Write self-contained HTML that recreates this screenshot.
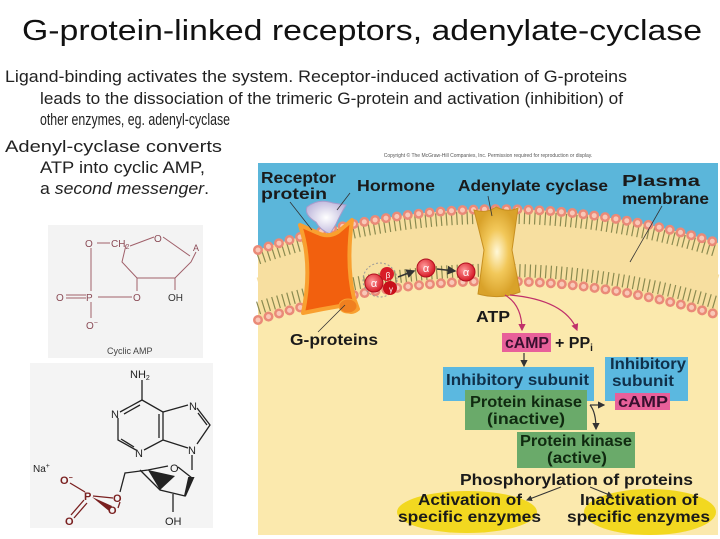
<!DOCTYPE html>
<html><head><meta charset="utf-8"><style>
html,body{margin:0;padding:0;background:#fff;}
svg{display:block;}
</style></head><body>
<svg width="720" height="539" viewBox="0 0 720 539" xmlns="http://www.w3.org/2000/svg" font-family="Liberation Sans, Arial, sans-serif">
<defs>
<radialGradient id="gc" cx="0.5" cy="0.5" r="0.5"><stop offset="0" stop-color="#fff8d8"/><stop offset="0.5" stop-color="#f2c85a"/><stop offset="1" stop-color="#d9a22a"/></radialGradient>
<radialGradient id="hm" cx="0.5" cy="0.5" r="0.6"><stop offset="0" stop-color="#fff"/><stop offset="1" stop-color="#b8b0d8"/></radialGradient>
<radialGradient id="al" cx="0.4" cy="0.4" r="0.6"><stop offset="0" stop-color="#ff9a9a"/><stop offset="1" stop-color="#d81c28"/></radialGradient>
<marker id="ar" markerWidth="6" markerHeight="6" refX="5" refY="3" orient="auto"><path d="M0,0 L6,3 L0,6 Z" fill="#333"/></marker>
<marker id="arp" markerWidth="6" markerHeight="6" refX="5" refY="3" orient="auto"><path d="M0,0 L6,3 L0,6 Z" fill="#c0306a"/></marker>
</defs>

<text x="22" y="40" font-size="29" fill="#111" textLength="680" lengthAdjust="spacingAndGlyphs">G-protein-linked receptors, adenylate-cyclase</text>
<g font-size="17" fill="#222">
<text x="5" y="82" textLength="622" lengthAdjust="spacingAndGlyphs">Ligand-binding activates the system. Receptor-induced activation of G-proteins</text>
<text x="40" y="104" textLength="583" lengthAdjust="spacingAndGlyphs">leads to the dissociation of the trimeric G-protein and activation (inhibition) of</text>
<text x="40" y="125" textLength="190" lengthAdjust="spacingAndGlyphs">other enzymes, eg. adenyl-cyclase</text>
<text x="5" y="152" textLength="217" lengthAdjust="spacingAndGlyphs">Adenyl-cyclase converts</text>
<text x="40" y="173" textLength="165" lengthAdjust="spacingAndGlyphs">ATP into cyclic AMP,</text>
<text x="40" y="194" textLength="169" lengthAdjust="spacingAndGlyphs">a <tspan font-style="italic">second messenger</tspan>.</text>
</g>

<rect x="48" y="225" width="155" height="133" fill="#f3f3f3"/>
<g stroke="#a0606a" stroke-width="1" fill="none">
<line x1="91" y1="248" x2="91" y2="291"/>
<line x1="97" y1="243" x2="110" y2="243"/>
<line x1="66" y1="295" x2="86" y2="295"/><line x1="66" y1="298" x2="86" y2="298"/>
<line x1="98" y1="297" x2="132" y2="297"/>
<line x1="91" y1="302" x2="91" y2="318"/>
<path d="M126,245 L122,262 L137,278 L175,278 L191,262 L196,252"/>
<path d="M130,246 L154,237 M163,237 L190,256"/>
<line x1="137" y1="278" x2="137" y2="291"/>
<line x1="175" y1="278" x2="175" y2="290"/>
</g>
<g font-size="10" fill="#8a4a55">
<text x="85" y="247">O</text><text x="111" y="247">CH<tspan font-size="7" dy="2">2</tspan></text>
<text x="154" y="242">O</text><text x="193" y="251" font-size="9">A</text>
<text x="56" y="301">O</text><text x="86" y="301">P</text><text x="133" y="301">O</text>
<text x="168" y="301" fill="#333">OH</text><text x="86" y="329">O<tspan font-size="7" dy="-4">−</tspan></text>
</g>
<text x="107" y="354" font-size="9" fill="#444">Cyclic AMP</text>

<rect x="30" y="363" width="183" height="165" fill="#f4f4f4"/>
<g stroke="#222" stroke-width="1.3" fill="none">
<line x1="142" y1="380" x2="142" y2="400"/>
<path d="M142,400 L120,412 M118,418 L118,440 L136,450 M144,450 L163,440 L163,412 L142,400"/>
<line x1="124" y1="414" x2="140" y2="405"/>
<line x1="121" y1="439" x2="134" y2="447"/>
<line x1="159" y1="414" x2="159" y2="438"/>
<path d="M163,412 L188,405 M197,408 L210,425 L197,444 M188,448 L163,440"/>
<line x1="198" y1="413" x2="207" y2="425"/>
<line x1="192" y1="455" x2="192" y2="470"/>
<path d="M192,478 L178,467 M168,466 L148,470 L125,473 L120,492"/>
<path d="M192,478 L185,496 L160,490 L140,470"/>
<line x1="173" y1="494" x2="173" y2="512"/>
</g>
<path d="M148,470 L175,476 L160,490 Z" fill="#222"/>
<path d="M185,496 L193,478 L189,478 Z" fill="#222" stroke="#222" stroke-width="2"/>
<g stroke="#7a2020" stroke-width="1.3" fill="none">
<line x1="70" y1="483" x2="85" y2="492"/>
<line x1="93" y1="496" x2="113" y2="498"/>
<path d="M71,515 L84,500 M74,518 L87,503"/>
<line x1="120" y1="502" x2="118" y2="508"/>
</g>
<path d="M92,497 L112,506 L109,511 Z" fill="#7a2020"/>
<g font-size="11" fill="#222">
<text x="130" y="378">NH<tspan font-size="7" dy="2">2</tspan></text>
<text x="111" y="418">N</text><text x="135" y="457">N</text>
<text x="189" y="410">N</text><text x="188" y="454">N</text>
<text x="170" y="472">O</text>
<text x="165" y="525">OH</text>
<text x="33" y="472" font-size="10">Na<tspan font-size="7" dy="-4">+</tspan></text>
</g>
<g font-size="11" fill="#7a2020" font-weight="bold">
<text x="60" y="484">O<tspan font-size="7" dy="-4">−</tspan></text>
<text x="84" y="500">P</text><text x="113" y="502">O</text><text x="108" y="514">O</text>
<text x="65" y="525">O</text>
</g>

<text x="488" y="157" font-size="5" fill="#555" text-anchor="middle">Copyright © The McGraw-Hill Companies, Inc. Permission required for reproduction or display.</text>
<rect x="258" y="163" width="460" height="372" fill="#fbe9ad"/>
<path d="M258,163 L718,163 L718,243 Q488,172 258,250 Z" fill="#5bb6da"/>
<path d="M258,250 Q488,172 718,243 L718,315 Q488,245 258,320 Z" fill="#f7dfa0"/>
<path d="M258,258 Q488,180 718,251" fill="none" stroke="#8a8a50" stroke-width="13" stroke-dasharray="1.2 4"/>
<path d="M258,308 Q488,235 718,303" fill="none" stroke="#8a8a50" stroke-width="13" stroke-dasharray="1.2 4"/>
<path d="M258,282 Q488,207 718,279" fill="none" stroke="#f7dfa0" stroke-width="9"/>
<path d="M258,250 Q488,172 718,243" fill="none" stroke="#ea8a78" stroke-width="10" stroke-linecap="round" stroke-dasharray="0 11"/>
<path d="M258,250 Q488,172 718,243" fill="none" stroke="#f9c8b8" stroke-width="5" stroke-linecap="round" stroke-dasharray="0 11"/>
<path d="M258,320 Q488,245 718,315" fill="none" stroke="#ea8a78" stroke-width="10" stroke-linecap="round" stroke-dasharray="0 11"/>
<path d="M258,320 Q488,245 718,315" fill="none" stroke="#f9c8b8" stroke-width="5" stroke-linecap="round" stroke-dasharray="0 11"/>

<path d="M307,207 Q318,198 333,203 L346,205 Q340,215 336,224 L330,234 Q320,230 316,222 Q304,215 307,207 Z" fill="url(#hm)" stroke="#a89ccc"/>
<path d="M300,225 L318,233 Q328,238 338,232 L352,220 Q346,265 354,298 L358,309 Q350,316 340,306 Q322,309 303,313 Q313,265 300,225 Z" fill="#f2600e" stroke="#f9a030" stroke-width="4" stroke-linejoin="round"/>
<ellipse cx="348" cy="306" rx="9" ry="7" fill="#f08020" stroke="#f9a030"/>
<path d="M474,210 Q486,214 496,207 Q508,213 518,208 L512,250 L520,292 Q500,300 478,294 L484,250 Z" fill="url(#gc)" stroke="#c89020"/>

<circle cx="380" cy="280" r="17" fill="none" stroke="#999" stroke-dasharray="2 2"/>
<circle cx="387" cy="274" r="7" fill="#d81c28"/>
<circle cx="390" cy="288" r="7" fill="#c8101a"/>
<circle cx="374" cy="283" r="9" fill="url(#al)" stroke="#b01020"/>
<text x="374" y="287" font-size="11" fill="#fff" text-anchor="middle">α</text>
<text x="388" y="278" font-size="8" fill="#fff" text-anchor="middle">β</text>
<text x="391" y="292" font-size="8" fill="#fff" text-anchor="middle">γ</text>
<circle cx="426" cy="268" r="9" fill="url(#al)" stroke="#b01020"/>
<text x="426" y="272" font-size="11" fill="#fff" text-anchor="middle">α</text>
<circle cx="466" cy="272" r="9" fill="url(#al)" stroke="#b01020"/>
<text x="466" y="276" font-size="11" fill="#fff" text-anchor="middle">α</text>
<line x1="398" y1="277" x2="414" y2="271" stroke="#333" stroke-width="1.5" marker-end="url(#ar)"/>
<line x1="437" y1="269" x2="455" y2="271" stroke="#333" stroke-width="1.5" marker-end="url(#ar)"/>

<g stroke="#333" stroke-width="0.8">
<line x1="290" y1="202" x2="312" y2="230"/>
<line x1="350" y1="193" x2="337" y2="210"/>
<line x1="488" y1="196" x2="492" y2="216"/>
<line x1="662" y1="206" x2="630" y2="262"/>
<line x1="318" y1="332" x2="345" y2="305"/>
</g>

<g font-size="16" font-weight="bold" fill="#1a1a1a">
<text x="261" y="183" textLength="75" lengthAdjust="spacingAndGlyphs">Receptor</text>
<text x="261" y="199" textLength="66" lengthAdjust="spacingAndGlyphs">protein</text>
<text x="357" y="191" textLength="78" lengthAdjust="spacingAndGlyphs">Hormone</text>
<text x="458" y="191" textLength="150" lengthAdjust="spacingAndGlyphs">Adenylate cyclase</text>
<text x="622" y="186" textLength="78" lengthAdjust="spacingAndGlyphs">Plasma</text>
<text x="622" y="204" textLength="87" lengthAdjust="spacingAndGlyphs">membrane</text>
<text x="290" y="345" textLength="88" lengthAdjust="spacingAndGlyphs">G-proteins</text>
<text x="476" y="322" textLength="34" lengthAdjust="spacingAndGlyphs">ATP</text>
</g>

<path d="M505,295 Q522,305 522,330" fill="none" stroke="#c0306a" stroke-width="1.2" marker-end="url(#arp)"/>
<path d="M510,295 Q565,300 577,330" fill="none" stroke="#c0306a" stroke-width="1.2" marker-end="url(#arp)"/>
<line x1="524" y1="353" x2="524" y2="366" stroke="#333" stroke-width="1.2" marker-end="url(#ar)"/>

<rect x="502" y="333" width="49" height="19" fill="#e8609a"/>
<rect x="443" y="367" width="151" height="34" fill="#5bb8e0"/>
<rect x="605" y="357" width="83" height="44" fill="#5bb8e0"/>
<rect x="615" y="393" width="55" height="17" fill="#e8609a"/>
<rect x="465" y="390" width="122" height="40" fill="#6aaa6a"/>
<rect x="517" y="432" width="118" height="36" fill="#6aaa6a"/>
<ellipse cx="467" cy="512" rx="70" ry="21" fill="#f2d820"/>
<ellipse cx="650" cy="512" rx="66" ry="23" fill="#f2d820"/>

<line x1="590" y1="405" x2="604" y2="405" stroke="#333" stroke-width="1.2" marker-end="url(#ar)"/>
<path d="M590,405 Q596,412 596,429" fill="none" stroke="#333" stroke-width="1.2" marker-end="url(#ar)"/>
<line x1="561" y1="487" x2="527" y2="500" stroke="#333" stroke-width="1" marker-end="url(#ar)"/>
<line x1="590" y1="487" x2="612" y2="496" stroke="#333" stroke-width="1" marker-end="url(#ar)"/>

<g font-size="16" font-weight="bold">
<text x="505" y="348" fill="#3a1030" textLength="44" lengthAdjust="spacingAndGlyphs">cAMP</text>
<text x="555" y="348" fill="#1a1a1a">+ PP<tspan font-size="10" dy="3">i</tspan></text>
<text x="446" y="385" fill="#10304a" textLength="143" lengthAdjust="spacingAndGlyphs">Inhibitory subunit</text>
<text x="610" y="369" fill="#10304a" textLength="76" lengthAdjust="spacingAndGlyphs">Inhibitory</text>
<text x="612" y="386" fill="#10304a" textLength="62" lengthAdjust="spacingAndGlyphs">subunit</text>
<text x="618" y="407" fill="#3a1030" textLength="50" lengthAdjust="spacingAndGlyphs">cAMP</text>
<text x="470" y="407" fill="#102a10" textLength="112" lengthAdjust="spacingAndGlyphs">Protein kinase</text>
<text x="487" y="424" fill="#102a10" textLength="78" lengthAdjust="spacingAndGlyphs">(inactive)</text>
<text x="520" y="446" fill="#102a10" textLength="112" lengthAdjust="spacingAndGlyphs">Protein kinase</text>
<text x="547" y="463" fill="#102a10" textLength="60" lengthAdjust="spacingAndGlyphs">(active)</text>
<text x="460" y="485" fill="#1a1a1a" textLength="233" lengthAdjust="spacingAndGlyphs">Phosphorylation of proteins</text>
<text x="418" y="505" fill="#1a1a1a" textLength="104" lengthAdjust="spacingAndGlyphs">Activation of</text>
<text x="398" y="522" fill="#1a1a1a" textLength="143" lengthAdjust="spacingAndGlyphs">specific enzymes</text>
<text x="580" y="505" fill="#1a1a1a" textLength="118" lengthAdjust="spacingAndGlyphs">Inactivation of</text>
<text x="567" y="522" fill="#1a1a1a" textLength="143" lengthAdjust="spacingAndGlyphs">specific enzymes</text>
</g>
</svg>
</body></html>
